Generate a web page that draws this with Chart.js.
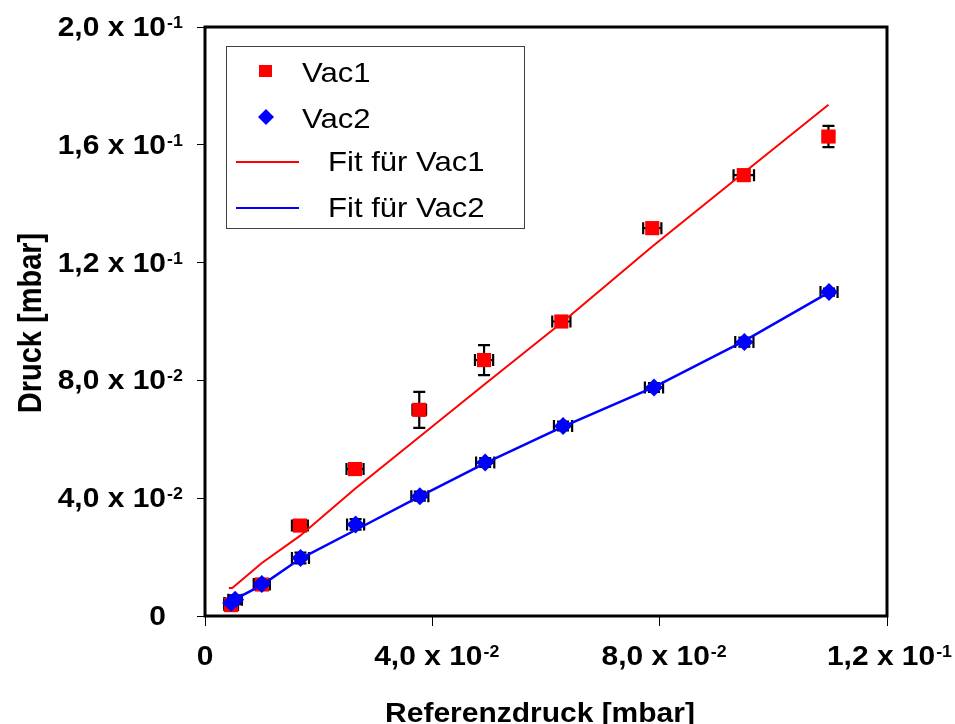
<!DOCTYPE html>
<html>
<head>
<meta charset="utf-8">
<title>Druck vs. Referenzdruck</title>
<script src="https://cdn.jsdelivr.net/npm/chart.js@4.4.1/dist/chart.umd.min.js"></script>
<style>
  html, body { margin: 0; padding: 0; background: #fff; }
  #wrap { width: 955px; height: 724px; }
</style>
</head>
<body>
<div id="wrap"><canvas id="chart" width="955" height="724"></canvas></div>
<script>
const vac1X    = [0.0046, 0.0100, 0.0167, 0.0264, 0.0377, 0.0491, 0.0627, 0.0787, 0.0948, 0.1097];
const vac1Y    = [0.0037, 0.0107, 0.0307, 0.0499, 0.0700, 0.0869, 0.1000, 0.1317, 0.1497, 0.1628];
const vac1XErr = [0.0012, 0.0014, 0.0014, 0.0015, 0.0012, 0.0016, 0.0016, 0.0016, 0.0018, 0.0010];
const vac1YErr = [0.0012, 0.0015, 0.0018, 0.0015, 0.0061, 0.0051, 0.0015, 0.0018, 0.0015, 0.0036];

const vac2X    = [0.0046, 0.0053, 0.0100, 0.0168, 0.0265, 0.0378, 0.0493, 0.0630, 0.0790, 0.0949, 0.1098];
const vac2Y    = [0.0044, 0.0055, 0.0109, 0.0197, 0.0311, 0.0407, 0.0521, 0.0645, 0.0776, 0.0930, 0.1100];
const vac2XErr = [0.0012, 0.0012, 0.0014, 0.0015, 0.0015, 0.0015, 0.0016, 0.0016, 0.0016, 0.0016, 0.0015];
const vac2YErr = [0.0015, 0.0015, 0.0015, 0.0018, 0.0018, 0.0015, 0.0015, 0.0015, 0.0015, 0.0015, 0.0012];

const fit1X = [0.0042, 0.0048, 0.0100, 0.0167, 0.0264, 0.0377, 0.0491, 0.0627, 0.0787, 0.0948, 0.1097];
const fit1Y = [0.0095, 0.0095, 0.0180, 0.0272, 0.0432, 0.0608, 0.0785, 0.0995, 0.1255, 0.1505, 0.1736];
const fit2X = [0.0048, 0.0100, 0.0168, 0.0265, 0.0378, 0.0493, 0.0630, 0.0790, 0.0949, 0.1098];
const fit2Y = [0.0052, 0.0105, 0.0195, 0.0292, 0.0406, 0.0519, 0.0643, 0.0777, 0.0934, 0.1099];

// Achsenbeschriftung: [Mantisse, Exponent]
const xTickValues = [0, 0.04, 0.08, 0.12];
const xTickLabels = [['0', ''], ['4,0 x 10', '-2'], ['8,0 x 10', '-2'], ['1,2 x 10', '-1']];
const yTickValues = [0, 0.04, 0.08, 0.12, 0.16, 0.2];
const yTickLabels = [['0', ''], ['4,0 x 10', '-2'], ['8,0 x 10', '-2'], ['1,2 x 10', '-1'], ['1,6 x 10', '-1'], ['2,0 x 10', '-1']];

const seriesNames = ['Vac1', 'Vac2', 'Fit für Vac1', 'Fit für Vac2'];
const xTitle = 'Referenzdruck [mbar]';
const yTitle = 'Druck [mbar]';

const RED = '#ff0000';
const BLUE = '#0000ff';
const FONT = "'Liberation Sans', Arial, sans-serif";
const STRETCH = 1.11; // Vorlage ist horizontal etwas gestreckt

const toPoints = (xs, ys) => xs.map((x, i) => ({ x: x, y: ys[i] }));

/**
 * Text horizontal gestreckt zeichnen, gibt die Breite zurück
 */
function stretchedText(ctx, text, x, y, font, align) {
  ctx.save();
  ctx.font = font;
  const w = ctx.measureText(text).width * STRETCH;
  let left = x;
  if (align === 'center') left = x - w / 2;
  else if (align === 'right') left = x - w;
  ctx.translate(left, y);
  ctx.scale(STRETCH, 1);
  ctx.textAlign = 'left';
  ctx.textBaseline = 'alphabetic';
  ctx.fillStyle = '#000';
  ctx.fillText(text, 0, 0);
  ctx.restore();
  return w;
}

function textWidth(ctx, text, font) {
  ctx.save();
  ctx.font = font;
  const w = ctx.measureText(text).width * STRETCH;
  ctx.restore();
  return w;
}

// Fehlerbalken unter den Markern
const errorBars = {
  id: 'errorBars',
  beforeDatasetsDraw(chart) {
    const { ctx, scales: { x, y } } = chart;
    const sets = [
      { xs: vac1X, ys: vac1Y, xe: vac1XErr, ye: vac1YErr },
      { xs: vac2X, ys: vac2Y, xe: vac2XErr, ye: vac2YErr }
    ];
    const cap = 6;
    ctx.save();
    ctx.strokeStyle = '#000';
    ctx.lineWidth = 2.2;
    sets.forEach(s => {
      s.xs.forEach((xv, i) => {
        const px = x.getPixelForValue(xv);
        const py = y.getPixelForValue(s.ys[i]);
        const yTop = y.getPixelForValue(s.ys[i] + s.ye[i]);
        const yBot = y.getPixelForValue(s.ys[i] - s.ye[i]);
        const xL = x.getPixelForValue(xv - s.xe[i]);
        const xR = x.getPixelForValue(xv + s.xe[i]);
        ctx.beginPath();
        ctx.moveTo(px, yTop); ctx.lineTo(px, yBot);
        ctx.moveTo(px - cap, yTop); ctx.lineTo(px + cap, yTop);
        ctx.moveTo(px - cap, yBot); ctx.lineTo(px + cap, yBot);
        ctx.moveTo(xL, py); ctx.lineTo(xR, py);
        ctx.moveTo(xL, py - cap); ctx.lineTo(xL, py + cap);
        ctx.moveTo(xR, py - cap); ctx.lineTo(xR, py + cap);
        ctx.stroke();
      });
    });
    ctx.restore();
  }
};

// Rahmen, Tick-Beschriftung, Achsentitel und Legende
const decorations = {
  id: 'decorations',
  afterDraw(chart) {
    const { ctx, chartArea: a, scales: { x, y } } = chart;
    const mainFont = 'bold 27px ' + FONT;
    const supFont = 'bold 16px ' + FONT;

    ctx.save();
    ctx.strokeStyle = '#000';
    ctx.lineWidth = 3;
    ctx.strokeRect(a.left, a.top, a.right - a.left, a.bottom - a.top);
    ctx.restore();

    // y-Ticks
    yTickValues.forEach((v, i) => {
      const py = y.getPixelForValue(v);
      const [main, sup] = yTickLabels[i];
      stretchedText(ctx, main, 166, py + 9, mainFont, 'right');
      if (sup) stretchedText(ctx, sup, 167, py + 1, supFont, 'left');
    });

    // x-Ticks
    xTickValues.forEach((v, i) => {
      const px = x.getPixelForValue(v);
      const [main, sup] = xTickLabels[i];
      if (!sup) {
        stretchedText(ctx, main, px, 665, mainFont, 'center');
        return;
      }
      const w = textWidth(ctx, main, mainFont);
      const sw = textWidth(ctx, sup, supFont);
      let left = px - 4 - w / 2;
      if (left + w + 1 + sw > 952) left = 952 - sw - 1 - w;
      stretchedText(ctx, main, left, 665, mainFont, 'left');
      stretchedText(ctx, sup, left + w + 1, 657, supFont, 'left');
    });

    // Achsentitel
    stretchedText(ctx, xTitle, 540, 722, mainFont, 'center');
    ctx.save();
    ctx.translate(41, 323);
    ctx.scale(1.17, 1);
    ctx.rotate(-Math.PI / 2);
    ctx.font = 'bold 29px ' + FONT;
    ctx.textAlign = 'center';
    ctx.textBaseline = 'alphabetic';
    ctx.fillStyle = '#000';
    ctx.fillText(yTitle, 0, 0);
    ctx.restore();

    // Legende
    ctx.save();
    ctx.fillStyle = '#fff';
    ctx.fillRect(226.5, 46.5, 298, 182);
    ctx.strokeStyle = '#404040';
    ctx.lineWidth = 1;
    ctx.strokeRect(226.5, 46.5, 298, 182);

    ctx.fillStyle = RED;
    ctx.fillRect(259, 65, 13, 12);
    ctx.fillStyle = BLUE;
    ctx.beginPath();
    ctx.moveTo(266, 109); ctx.lineTo(274, 117); ctx.lineTo(266, 125); ctx.lineTo(258, 117);
    ctx.closePath();
    ctx.fill();

    ctx.lineWidth = 2;
    ctx.strokeStyle = RED;
    ctx.beginPath(); ctx.moveTo(236, 162); ctx.lineTo(299, 162); ctx.stroke();
    ctx.strokeStyle = BLUE;
    ctx.beginPath(); ctx.moveTo(236, 208); ctx.lineTo(299, 208); ctx.stroke();
    ctx.restore();

    const legFont = '28px ' + FONT;
    stretchedText(ctx, seriesNames[0], 302, 82, legFont, 'left');
    stretchedText(ctx, seriesNames[1], 302, 128, legFont, 'left');
    stretchedText(ctx, seriesNames[2], 328, 171, legFont, 'left');
    stretchedText(ctx, seriesNames[3], 328, 217, legFont, 'left');
  }
};

const axisGrid = {
  drawOnChartArea: false,
  drawTicks: true,
  color: '#000',
  lineWidth: 1
};

new Chart(document.getElementById('chart'), {
  type: 'scatter',
  data: {
    datasets: [
      {
        label: seriesNames[0],
        data: toPoints(vac1X, vac1Y),
        pointStyle: 'rect',
        pointRadius: 10,
        backgroundColor: RED,
        borderWidth: 0,
        showLine: false,
        order: 2
      },
      {
        label: seriesNames[1],
        data: toPoints(vac2X, vac2Y),
        pointStyle: 'rectRot',
        pointRadius: 9,
        backgroundColor: BLUE,
        borderWidth: 0,
        showLine: false,
        order: 1
      },
      {
        label: seriesNames[2],
        data: toPoints(fit1X, fit1Y),
        showLine: true,
        pointRadius: 0,
        borderColor: RED,
        borderWidth: 2,
        tension: 0,
        order: 0
      },
      {
        label: seriesNames[3],
        data: toPoints(fit2X, fit2Y),
        showLine: true,
        pointRadius: 0,
        borderColor: BLUE,
        borderWidth: 2.5,
        tension: 0,
        order: 0
      }
    ]
  },
  options: {
    responsive: false,
    animation: false,
    layout: { padding: { top: 27, right: 68, left: 0, bottom: 0 } },
    plugins: {
      legend: { display: false },
      tooltip: { enabled: false }
    },
    scales: {
      x: {
        type: 'linear',
        min: 0,
        max: 0.12,
        ticks: { stepSize: 0.04, display: false },
        grid: Object.assign({}, axisGrid, { tickLength: 10 }),
        border: { display: false },
        afterFit: s => { s.height = 108; }
      },
      y: {
        type: 'linear',
        min: 0,
        max: 0.2,
        ticks: { stepSize: 0.04, display: false },
        grid: Object.assign({}, axisGrid, { tickLength: 8 }),
        border: { display: false },
        afterFit: s => { s.width = 205; }
      }
    }
  },
  plugins: [errorBars, decorations]
});
</script>
</body>
</html>
